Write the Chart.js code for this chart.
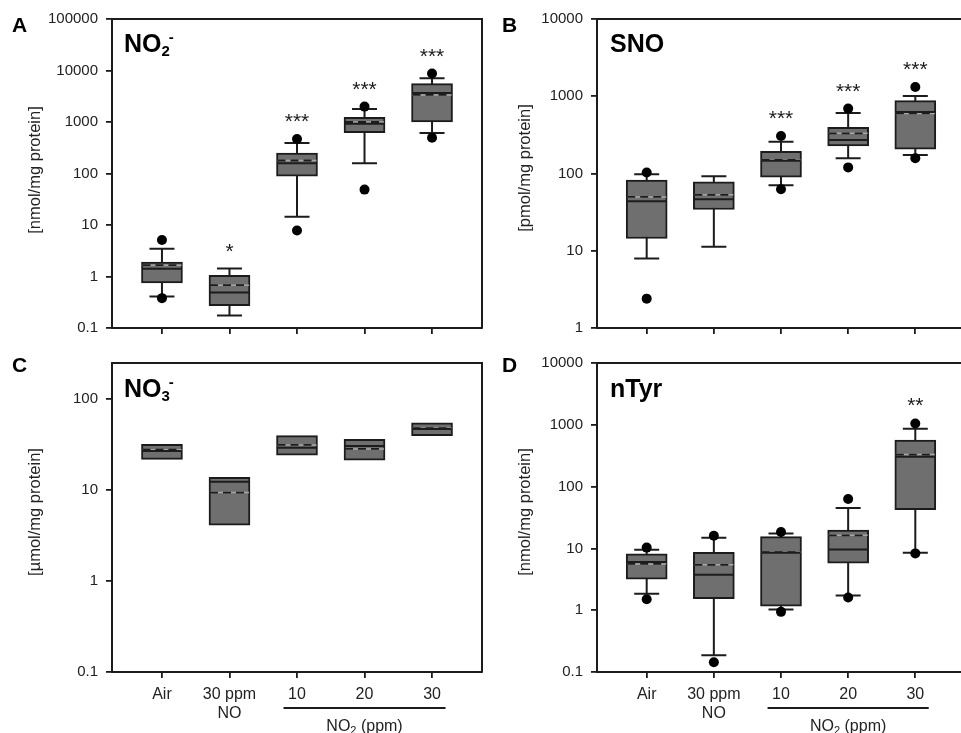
<!DOCTYPE html>
<html><head><meta charset="utf-8">
<script src="https://cdn.jsdelivr.net/npm/chart.js@4/dist/chart.umd.min.js"></script>
<style>
html,body{margin:0;padding:0;overflow:hidden;background:#fff;width:961px;height:733px;position:relative}
canvas{position:absolute}
</style></head><body>
<canvas id="cA" style="left:0;top:0" width="490" height="350"></canvas>
<canvas id="cB" style="left:490px;top:0" width="480" height="350"></canvas>
<canvas id="cC" style="left:0;top:340px" width="490" height="393"></canvas>
<canvas id="cD" style="left:490px;top:340px" width="480" height="393"></canvas>
<script>
// ---------- data ----------
const categories = ['Air', ['30 ppm', 'NO'], '10', '20', '30'];

// Panel A: NO2- [nmol/mg protein]
const no2Q1 = [0.75, 0.27, 89, 620, 1000];
const no2Q3 = [1.9, 1.05, 249, 1233, 5580];
const no2Median = [1.41, 0.49, 159, 929, 3670];
const no2Mean = [1.66, 0.68, 179, 1000, 3350];
const no2WhiskerLow = [0.41, 0.174, 14.5, 159, 611];
const no2WhiskerHigh = [3.46, 1.43, 390, 1790, 7090];
const no2Outliers = [[5.1, 0.38], [], [467, 7.8], [1990, 48.7], [8740, 495]];
const no2Sig = ['', '*', '***', '***', '***'];
const no2Ticks = [0.1, 1, 10, 100, 1000, 10000, 100000];

// Panel B: SNO [pmol/mg protein]
const snoQ1 = [14.4, 34.2, 89.6, 227, 207];
const snoQ3 = [82, 78, 193, 396, 879];
const snoMedian = [43.7, 46.4, 146, 272, 627];
const snoMean = [49.8, 52.9, 150, 331, 600];
const snoWhiskerLow = [7.95, 11.3, 70.6, 158, 174];
const snoWhiskerHigh = [98, 92, 257, 608, 1010];
const snoOutliers = [[103, 2.4], [], [306, 62.7], [692, 120], [1318, 158]];
const snoSig = ['', '', '***', '***', '***'];
const snoTicks = [1, 10, 100, 1000, 10000];

// Panel C: NO3- [µmol/mg protein]
const no3Q1 = [21.8, 4.12, 24.2, 21.3, 39.8];
const no3Q3 = [31.9, 13.8, 39.8, 36.3, 54.9];
const no3Median = [26.9, 12.4, 29.3, 30.6, 47.1];
const no3Mean = [27.8, 9.4, 31.4, 28.4, 48];
const no3Sig = ['', '', '', '', ''];
const no3Ticks = [0.1, 1, 10, 100];

// Panel D: nTyr [nmol/mg protein]
const ntyrQ1 = [3.18, 1.53, 1.16, 5.78, 42.4];
const ntyrQ3 = [8.2, 8.6, 15.5, 19.8, 564];
const ntyrMedian = [6.0, 3.74, 8.5, 9.6, 303];
const ntyrMean = [5.6, 5.43, 8.7, 16.3, 330];
const ntyrWhiskerLow = [1.84, 0.186, 1.03, 1.73, 8.5];
const ntyrWhiskerHigh = [9.5, 14.9, 17.5, 45, 861];
const ntyrOutliers = [[10.3, 1.5], [16, 0.144], [18.4, 0.94], [63, 1.6], [1050, 8.3]];
const ntyrSig = ['', '', '', '', '**'];
const ntyrTicks = [0.1, 1, 10, 100, 1000, 10000];

// ---------- drawing ----------
const FAM = '"Liberation Sans", Arial, Helvetica, sans-serif';
const INK = '#1c1c1c';
const BOXW = 41, CAPW = 25;

function rich(ctx, x, y, parts, align) {
  let w = 0;
  parts.forEach(p => { ctx.font = p[1]; p.w = ctx.measureText(p[0]).width + (p[3] || 0); w += p.w; });
  let cx = align === 'center' ? x - w / 2 : x;
  ctx.textAlign = 'left';
  parts.forEach(p => { ctx.font = p[1]; ctx.fillText(p[0], cx, y + p[2]); cx += p.w; });
}

function extras(P) {
  return {
    id: 'boxExtras',
    beforeDatasetsDraw(chart) {
      if (!P.wlo) return;
      const { ctx, scales: { x, y } } = chart;
      ctx.save(); ctx.strokeStyle = INK; ctx.lineWidth = 2;
      P.wlo.forEach((lo, i) => {
        const px = x.getPixelForValue(i);
        const y1 = y.getPixelForValue(lo), y2 = y.getPixelForValue(P.whi[i]);
        ctx.beginPath();
        ctx.moveTo(px, y1); ctx.lineTo(px, y2);
        ctx.moveTo(px - CAPW / 2, y1); ctx.lineTo(px + CAPW / 2, y1);
        ctx.moveTo(px - CAPW / 2, y2); ctx.lineTo(px + CAPW / 2, y2);
        ctx.stroke();
      });
      ctx.restore();
    },
    afterDatasetsDraw(chart) {
      const { ctx, scales: { x, y } } = chart;
      ctx.save();
      P.median.forEach((m, i) => {
        const px = x.getPixelForValue(i);
        const l = px - BOXW / 2 + 1, r = px + BOXW / 2 - 1;
        const ym = y.getPixelForValue(P.mean[i]);
        ctx.setLineDash([]);
        ctx.strokeStyle = '#a8a8a8'; ctx.lineWidth = 1.5;
        ctx.beginPath(); ctx.moveTo(l, ym); ctx.lineTo(r, ym); ctx.stroke();
        ctx.strokeStyle = INK; ctx.lineWidth = 1.8; ctx.setLineDash([8, 5]);
        ctx.beginPath(); ctx.moveTo(l, ym); ctx.lineTo(r, ym); ctx.stroke();
        ctx.setLineDash([]);
        const yd = y.getPixelForValue(m);
        ctx.lineWidth = 2;
        ctx.beginPath(); ctx.moveTo(l, yd); ctx.lineTo(r, yd); ctx.stroke();
      });
      // significance marks
      ctx.fillStyle = INK; ctx.font = '21px ' + FAM; ctx.textAlign = 'center'; ctx.textBaseline = 'alphabetic';
      P.sig.forEach((s, i) => {
        if (!s) return;
        let top = P.q3[i];
        if (P.whi) top = Math.max(top, P.whi[i]);
        if (P.out) P.out[i].forEach(v => { top = Math.max(top, v); });
        const py = y.getPixelForValue(top) - 23 + 12;
        ctx.fillText(s, x.getPixelForValue(i), py);
      });
      ctx.restore();
    },
    afterDraw(chart) {
      const { ctx, chartArea: a, scales: { x } } = chart;
      ctx.save();
      ctx.strokeStyle = INK; ctx.lineWidth = 2;
      ctx.beginPath(); ctx.moveTo(a.left - 1, a.top); ctx.lineTo(a.right, a.top); ctx.lineTo(a.right, a.bottom); ctx.stroke();
      ctx.fillStyle = '#000'; ctx.textBaseline = 'alphabetic';
      // panel letter
      ctx.font = 'bold 21px ' + FAM; ctx.textAlign = 'left';
      ctx.fillText(P.letter, 12, 32);
      // panel title
      rich(ctx, P.titleX, P.titleY, P.title, 'left');
      // y axis title
      ctx.save();
      ctx.translate(35, P.yTitleY); ctx.rotate(-Math.PI / 2);
      ctx.font = '16.5px ' + FAM; ctx.textAlign = 'center'; ctx.textBaseline = 'middle'; ctx.fillStyle = '#222';
      ctx.fillText(P.yTitle, 0, 0);
      ctx.restore();
      // NO2 group bracket
      if (P.group) {
        const x1 = x.getPixelForValue(1.8), x2 = x.getPixelForValue(4.2);
        const ly = a.bottom + 36;
        ctx.lineWidth = 1.8; ctx.strokeStyle = INK;
        ctx.beginPath(); ctx.moveTo(x1, ly); ctx.lineTo(x2, ly); ctx.stroke();
        ctx.fillStyle = '#222'; ctx.textBaseline = 'alphabetic';
        rich(ctx, x.getPixelForValue(3), ly + 23, [
          ['NO', '16px ' + FAM, 0], ['2', '11px ' + FAM, 3], [' (ppm)', '16px ' + FAM, 0]
        ], 'center');
      }
      ctx.restore();
    }
  };
}

function makeChart(id, P) {
  const outPts = [];
  if (P.out) P.out.forEach((arr, i) => arr.forEach(v => outPts.push({ x: i, y: v })));
  const boxes = P.q1.map((q, i) => ({ x: i, y: [q, P.q3[i]] }));
  const gridOpts = { drawOnChartArea: false, drawTicks: true, tickLength: 6, color: INK, lineWidth: 1.8, offset: false };
  const borderOpts = { display: true, color: INK, width: 2 };
  return new Chart(document.getElementById(id), {
    type: 'bar',
    data: {
      datasets: [
        { type: 'scatter', data: outPts, pointRadius: 5, pointHoverRadius: 5, backgroundColor: '#000', borderColor: '#000', borderWidth: 0, order: 1 },
        { type: 'bar', data: boxes, barThickness: BOXW, backgroundColor: '#6f6f6f', borderColor: INK, borderWidth: 2, borderSkipped: false, order: 2 }
      ]
    },
    options: {
      responsive: false, animation: false, devicePixelRatio: 1,
      layout: { padding: P.pad },
      plugins: { legend: { display: false }, tooltip: { enabled: false } },
      scales: {
        x: {
          type: 'linear', min: -0.74, max: 4.74, bounds: 'data', offset: false,
          afterBuildTicks: s => { s.ticks = categories.map((c, i) => ({ value: i })); },
          afterFit: s => { s.height = P.xh; },
          ticks: {
            autoSkip: false, maxRotation: 0, minRotation: 0, padding: 7,
            font: { size: 16, family: FAM, lineHeight: 1.2 }, color: '#222',
            callback: v => P.showLabels ? categories[v] : ''
          },
          grid: gridOpts, border: borderOpts
        },
        y: {
          type: 'logarithmic', min: P.min, max: P.max,
          afterBuildTicks: s => { s.ticks = P.ticks.map(v => ({ value: v })); },
          afterFit: s => { s.width = P.yw; },
          ticks: { autoSkip: false, padding: 8, font: { size: 15, family: FAM }, color: '#222', callback: v => String(v) },
          grid: gridOpts, border: borderOpts
        }
      }
    },
    plugins: [extras(P)]
  });
}

const B = 'bold 25px ' + FAM, S = 'bold 15px ' + FAM;

makeChart('cA', {
  q1: no2Q1, q3: no2Q3, median: no2Median, mean: no2Mean, wlo: no2WhiskerLow, whi: no2WhiskerHigh,
  out: no2Outliers, sig: no2Sig, ticks: no2Ticks, min: 0.1, max: 100000,
  pad: { top: 19, right: 8, left: 0, bottom: 0 }, yw: 112, xh: 22, showLabels: false,
  letter: 'A', title: [['NO', B, 0], ['2', S, 4, -1], ['-', S, -10]], titleX: 124, titleY: 52,
  yTitle: '[nmol/mg protein]', yTitleY: 170
});
makeChart('cB', {
  q1: snoQ1, q3: snoQ3, median: snoMedian, mean: snoMean, wlo: snoWhiskerLow, whi: snoWhiskerHigh,
  out: snoOutliers, sig: snoSig, ticks: snoTicks, min: 1, max: 10000,
  pad: { top: 19, right: 3, left: 0, bottom: 0 }, yw: 107, xh: 22, showLabels: false,
  letter: 'B', title: [['SNO', B, 0]], titleX: 120, titleY: 52,
  yTitle: '[pmol/mg protein]', yTitleY: 168
});
makeChart('cC', {
  q1: no3Q1, q3: no3Q3, median: no3Median, mean: no3Mean,
  sig: no3Sig, ticks: no3Ticks, min: 0.1, max: 250,
  pad: { top: 23, right: 8, left: 0, bottom: 0 }, yw: 112, xh: 61, showLabels: true, group: true,
  letter: 'C', title: [['NO', B, 0], ['3', S, 4, -1], ['-', S, -10]], titleX: 124, titleY: 57,
  yTitle: '[µmol/mg protein]', yTitleY: 172
});
makeChart('cD', {
  q1: ntyrQ1, q3: ntyrQ3, median: ntyrMedian, mean: ntyrMean, wlo: ntyrWhiskerLow, whi: ntyrWhiskerHigh,
  out: ntyrOutliers, sig: ntyrSig, ticks: ntyrTicks, min: 0.1, max: 10000,
  pad: { top: 23, right: 3, left: 0, bottom: 0 }, yw: 107, xh: 61, showLabels: true, group: true,
  letter: 'D', title: [['nTyr', B, 0]], titleX: 120, titleY: 57,
  yTitle: '[nmol/mg protein]', yTitleY: 172
});
</script>
</body></html>
